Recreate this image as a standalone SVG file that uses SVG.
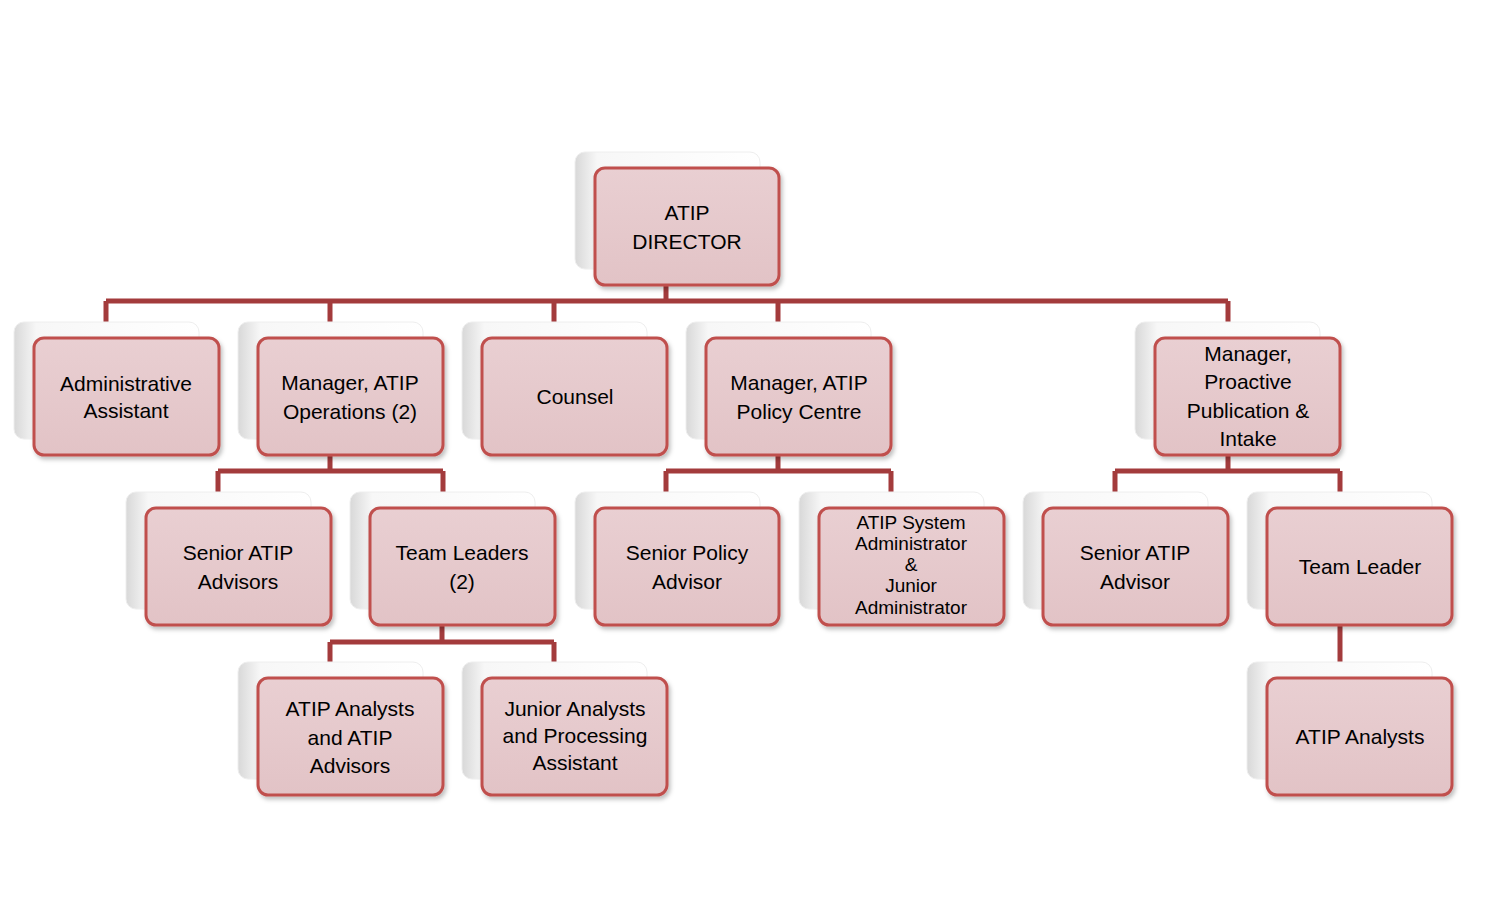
<svg xmlns="http://www.w3.org/2000/svg" width="1499" height="912" viewBox="0 0 1499 912">
<defs>
<linearGradient id="bg" x1="0" y1="0" x2="1" y2="0"><stop offset="0" stop-color="#d8d8d8"/><stop offset="0.12" stop-color="#f7f7f7"/><stop offset="1" stop-color="#ffffff"/></linearGradient>
<linearGradient id="fg" x1="0" y1="0" x2="0" y2="1"><stop offset="0" stop-color="#e9cfd2"/><stop offset="1" stop-color="#e2c3c6"/></linearGradient>
<filter id="sh" x="-10%" y="-10%" width="130%" height="130%"><feDropShadow dx="2" dy="3" stdDeviation="2" flood-color="#000" flood-opacity="0.25"/></filter>
</defs>
<style>
.b{fill:url(#bg);stroke:#eeeeee;stroke-width:1}
.f{fill:url(#fg);stroke:#c0504d;stroke-width:3;filter:url(#sh)}
text{font-family:"Liberation Sans",Arial,sans-serif;font-size:21px;fill:#000;text-anchor:middle}
.s{font-size:19px}
.c{fill:none;stroke:#a33b3c;stroke-width:5}
</style>
<rect width="1499" height="912" fill="#fff"/>
<g id="connectors">
<path class="c" d="M666 285V301M106 301H1228M106 301V338M330 301V338M554 301V338M778 301V338M1228 301V338"/>
<path class="c" d="M330 455V471M218 471H443M218 471V508M443 471V508"/>
<path class="c" d="M778 455V471M666 471H891M666 471V508M891 471V508"/>
<path class="c" d="M1228 455V471M1115 471H1340M1115 471V508M1340 471V508"/>
<path class="c" d="M442 625V642M330 642H554M330 642V678M554 642V678"/>
<path class="c" d="M1340 625V678"/>
</g>
<g id="n1"><rect class="b" x="575" y="152" width="185" height="117" rx="10"/><rect class="f" x="595" y="168" width="184" height="117" rx="10"/><text x="687" y="220">ATIP</text><text x="687" y="249">DIRECTOR</text></g>
<g id="n2"><rect class="b" x="14" y="322" width="185" height="117" rx="10"/><rect class="f" x="34" y="338" width="185" height="117" rx="10"/><text x="126" y="391">Administrative</text><text x="126" y="418">Assistant</text></g>
<g id="n3"><rect class="b" x="238" y="322" width="185" height="117" rx="10"/><rect class="f" x="258" y="338" width="185" height="117" rx="10"/><text x="350" y="390">Manager, ATIP</text><text x="350" y="419">Operations (2)</text></g>
<g id="n4"><rect class="b" x="462" y="322" width="185" height="117" rx="10"/><rect class="f" x="482" y="338" width="185" height="117" rx="10"/><text x="575" y="404">Counsel</text></g>
<g id="n5"><rect class="b" x="686" y="322" width="185" height="117" rx="10"/><rect class="f" x="706" y="338" width="185" height="117" rx="10"/><text x="799" y="390">Manager, ATIP</text><text x="799" y="419">Policy Centre</text></g>
<g id="n6"><rect class="b" x="1135" y="322" width="185" height="117" rx="10"/><rect class="f" x="1155" y="338" width="185" height="117" rx="10"/><text x="1248" y="361">Manager,</text><text x="1248" y="389">Proactive</text><text x="1248" y="418">Publication &amp;</text><text x="1248" y="446">Intake</text></g>
<g id="n7"><rect class="b" x="126" y="492" width="185" height="117" rx="10"/><rect class="f" x="146" y="508" width="185" height="117" rx="10"/><text x="238" y="560">Senior ATIP</text><text x="238" y="589">Advisors</text></g>
<g id="n8"><rect class="b" x="350" y="492" width="185" height="117" rx="10"/><rect class="f" x="370" y="508" width="185" height="117" rx="10"/><text x="462" y="560">Team Leaders</text><text x="462" y="589">(2)</text></g>
<g id="n9"><rect class="b" x="575" y="492" width="185" height="117" rx="10"/><rect class="f" x="595" y="508" width="184" height="117" rx="10"/><text x="687" y="560">Senior Policy</text><text x="687" y="589">Advisor</text></g>
<g id="n10"><rect class="b" x="799" y="492" width="185" height="117" rx="10"/><rect class="f" x="819" y="508" width="185" height="117" rx="10"/><text class="s" x="911" y="529">ATIP System</text><text class="s" x="911" y="550">Administrator</text><text class="s" x="911" y="571">&amp;</text><text class="s" x="911" y="592">Junior</text><text class="s" x="911" y="614">Administrator</text></g>
<g id="n11"><rect class="b" x="1023" y="492" width="185" height="117" rx="10"/><rect class="f" x="1043" y="508" width="185" height="117" rx="10"/><text x="1135" y="560">Senior ATIP</text><text x="1135" y="589">Advisor</text></g>
<g id="n12"><rect class="b" x="1247" y="492" width="185" height="117" rx="10"/><rect class="f" x="1267" y="508" width="185" height="117" rx="10"/><text x="1360" y="574">Team Leader</text></g>
<g id="n13"><rect class="b" x="238" y="662" width="185" height="117" rx="10"/><rect class="f" x="258" y="678" width="185" height="117" rx="10"/><text x="350" y="716">ATIP Analysts</text><text x="350" y="745">and ATIP</text><text x="350" y="773">Advisors</text></g>
<g id="n14"><rect class="b" x="462" y="662" width="185" height="117" rx="10"/><rect class="f" x="482" y="678" width="185" height="117" rx="10"/><text x="575" y="716">Junior Analysts</text><text x="575" y="743">and Processing</text><text x="575" y="770">Assistant</text></g>
<g id="n15"><rect class="b" x="1247" y="662" width="185" height="117" rx="10"/><rect class="f" x="1267" y="678" width="185" height="117" rx="10"/><text x="1360" y="744">ATIP Analysts</text></g>
</svg>
